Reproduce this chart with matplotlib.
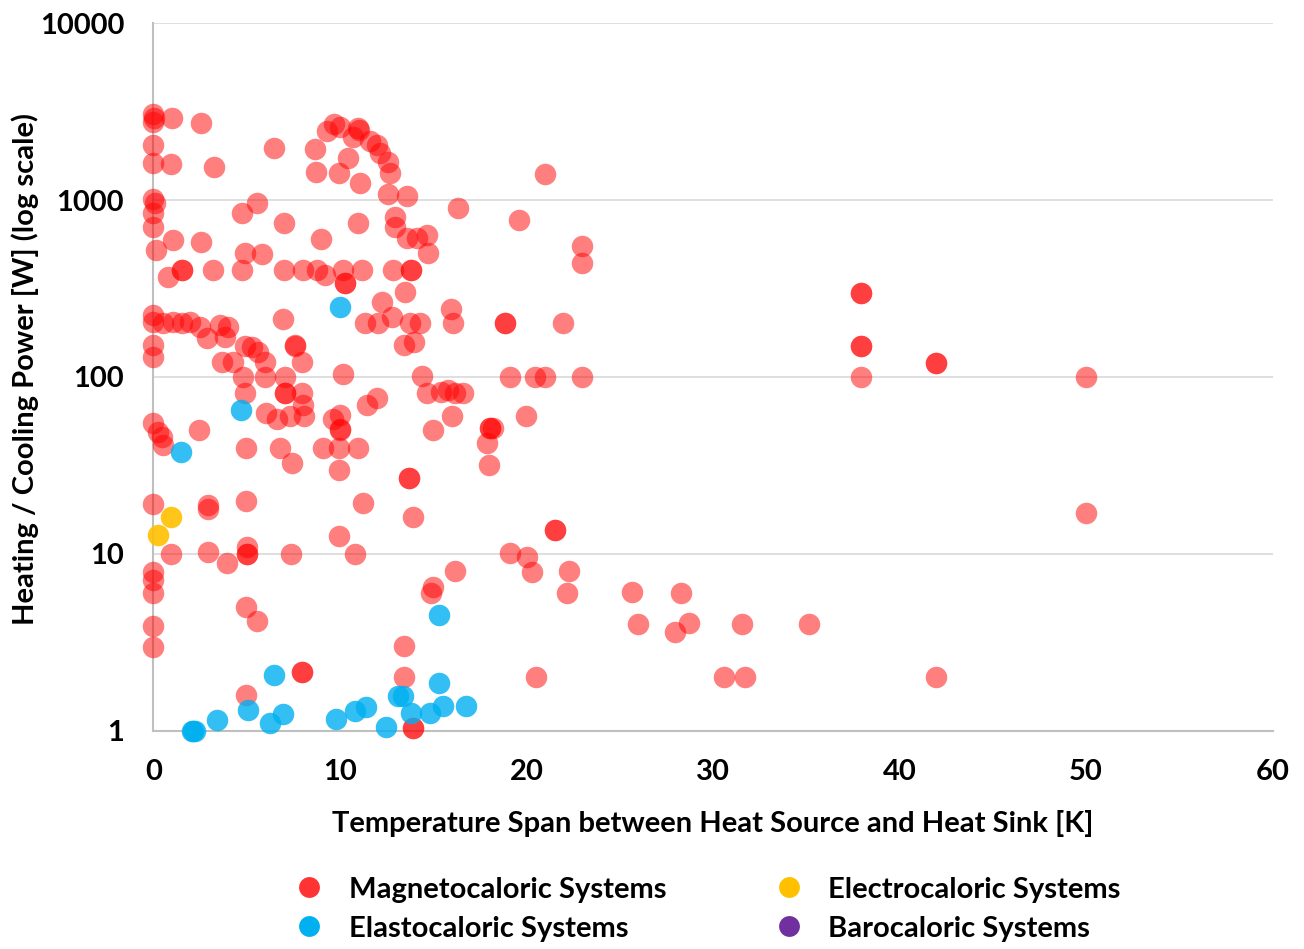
import numpy as np
import matplotlib.pyplot as plt
from matplotlib.lines import Line2D

# Magnetocaloric systems (temperature span [K], power [W])
mag_span = [0, 0.05, 0, 0.99, 2.54, 0, 0, 0.95, 3.25, 6.48, 8.67, 9.3, 9.7, 10.0,
            10.95, 11.05, 10.7, 11.6, 12.0, 12.15, 12.6, 12.7, 10.43, 9.97, 11.08,
            8.72, 12.59, 13.58, 16.31,
            0, 0.1, 0, 0, 0.15, 1.07, 2.54, 5.54, 4.74, 7.0, 8.97, 10.99, 12.95,
            12.95, 13.58, 14.12, 14.65, 14.74, 4.9, 5.83,
            1.52, 1.52, 0.77, 3.18, 4.75, 7.02, 8.04, 8.76, 9.2, 10.18, 10.27, 10.27,
            11.2, 12.86, 13.79, 13.79, 13.5, 12.24, 12.78, 11.34, 12.06, 13.76, 14.29,
            13.45, 14.0, 15.95, 16.08, 18.86, 18.86, 21.97, 6.97,
            0, 0, 0.54, 1.07, 1.52, 1.97, 2.5, 2.86, 3.57, 4.02, 3.84, 0, 0,
            4.9, 5.3, 5.6, 7.6, 7.6, 7.95, 3.67, 4.29, 5.99, 10.18, 7.06, 4.82, 5.99,
            14.38, 14.65, 15.4, 15.8, 16.2, 16.6, 15.99, 14.97, 4.9, 7.06, 7.06, 7.95,
            8.04, 6.04, 6.65, 7.33, 8.08, 9.65, 10.0, 10.0, 10.0, 11.44, 11.97,
            0, 0.24, 0.45, 0.54, 2.47, 4.97, 6.79, 7.45, 9.08, 9.97, 10.99, 9.97,
            13.72, 13.72,
            0, 2.95, 2.95, 4.97, 11.25, 13.9, 9.97, 0.95, 2.95, 3.97, 5.0, 5.0, 5.0,
            7.38, 10.81, 0, 0, 0, 4.97, 5.54, 0, 0, 16.17, 14.97, 14.87, 13.45, 13.45,
            7.95, 7.95, 4.97, 13.93, 13.93,
            20.99, 19.61, 22.96, 22.96, 19.12, 20.46, 20.99, 22.96, 19.96, 18.04, 18.04,
            18.22, 17.9, 17.99, 21.53, 21.53, 19.12, 20.04, 20.28, 22.29, 22.19, 25.67,
            28.28, 25.99, 27.96, 28.71, 31.53, 35.14, 20.49, 30.6, 31.71, 41.95,
            37.93, 37.93, 37.93, 37.93, 37.93, 41.95, 41.95, 50, 50]
mag_power = [3050, 2900, 2750, 2910, 2720, 2050, 1620, 1600, 1540, 1970, 1935, 2450, 2700, 2600,
             2550, 2500, 2270, 2150, 2050, 1850, 1650, 1430, 1730, 1420, 1250,
             1440, 1080, 1050, 900,
             1020, 960, 841, 706, 522, 595, 576, 958, 841, 744, 604, 746, 805,
             706, 607, 607, 634, 500, 500, 496,
             403, 403, 368, 403, 403, 403, 403, 403, 377, 403, 341, 341,
             403, 403, 403, 403, 303, 266, 219, 202, 202, 202, 202,
             151, 158, 241, 202, 202, 202, 202, 212,
             225, 205, 202, 205, 202, 205, 192, 166, 197, 192, 169, 152, 130,
             150, 148, 138, 152, 150, 122, 121, 121, 121, 104, 100, 100, 100,
             101, 81, 82.5, 84, 81.5, 81.5, 60, 50, 81, 81, 81, 81,
             69, 62.8, 57.6, 60, 60, 57.6, 61, 50, 51, 69, 75.7,
             55, 49, 46, 41, 50, 39.8, 39.8, 32.5, 39.8, 39.8, 39.8, 29.8,
             27, 27,
             19.1, 18.9, 17.9, 20, 19.5, 16.2, 12.7, 10, 10.2, 8.84, 11, 10, 10,
             10, 10, 7.86, 7.1, 5.98, 4.99, 4.19, 3.91, 2.98, 8.0, 6.52, 5.98, 3.0, 2.02,
             2.16, 2.16, 1.59, 1.03, 1.03,
             1403, 770, 552, 439, 100, 100, 100, 100, 60, 51.2, 51.2,
             51.2, 42.5, 31.8, 13.7, 13.7, 10.1, 9.6, 7.9, 8.0, 6.0, 6.06,
             6.0, 4.0, 3.6, 4.05, 4.0, 4.0, 2.0, 2.0, 2.0, 2.0,
             300, 300, 150, 150, 100, 120, 120, 100, 17.0]

# Elastocaloric systems
ela_span = [10.0, 4.68, 1.47, 15.31, 6.47, 5.09, 3.43, 2.06, 2.23, 2.15, 6.25, 6.97, 9.79,
            10.81, 11.4, 12.47, 13.1, 13.4, 13.79, 14.83, 15.31, 15.51, 16.76]
ela_power = [249, 65, 37.8, 4.51, 2.07, 1.31, 1.15, 1.0, 1.0, 1.0, 1.11, 1.25, 1.17,
             1.29, 1.37, 1.05, 1.57, 1.58, 1.26, 1.26, 1.85, 1.38, 1.38]

# Electrocaloric systems
ele_span = [0.95, 0.24]
ele_power = [16.1, 12.8]

# Barocaloric systems (none in the data, only in the legend)
bar_span = []
bar_power = []

red = '#FF0000'
blue = '#00B0F0'
yellow = '#FFC000'
purple = '#7030A0'

plt.rcParams['font.family'] = ['Lato', 'DejaVu Sans']
plt.rcParams['font.weight'] = 'bold'
fs = 21

fig = plt.figure(figsize=(13.04, 9.49), dpi=100)
ax = fig.add_axes([0.1175, 0.23, 0.8585, 0.7455])

ms = 240
ax.scatter(mag_span, mag_power, s=ms, color=red, alpha=0.5, linewidths=0, clip_on=False, zorder=3)
ax.scatter(ela_span, ela_power, s=ms, color=blue, alpha=0.8, linewidths=0, clip_on=False, zorder=4)
ax.scatter(ele_span, ele_power, s=ms, color=yellow, alpha=0.9, linewidths=0, clip_on=False, zorder=5)
ax.scatter(bar_span, bar_power, s=ms, color=purple, linewidths=0, zorder=5)

ax.set_yscale('log')
ax.set_xlim(0, 60)
ax.set_ylim(1, 10000)
ax.set_xticks(range(0, 61, 10))
ax.set_yticks([1, 10, 100, 1000, 10000])
ax.set_yticklabels(['1', '10', '100', '1000', '10000'])
ax.minorticks_off()
ax.tick_params(length=0, labelsize=fs)
ax.tick_params(axis='y', pad=21)
ax.tick_params(axis='x', pad=20)
for lab in ax.get_xticklabels() + ax.get_yticklabels():
    lab.set_fontweight('bold')

# light horizontal grid, grey axis lines
ax.grid(axis='y', color='#D9D9D9', linewidth=1.2)
ax.set_axisbelow(True)
for side in ['top', 'right']:
    ax.spines[side].set_visible(False)
for side in ['left', 'bottom']:
    ax.spines[side].set_color('#BFBFBF')
    ax.spines[side].set_linewidth(1.5)

ax.set_xlabel('Temperature Span between Heat Source and Heat Sink [K]', fontsize=fs,
              fontweight='bold', labelpad=18)
# y label placed by hand so it is not cut at the left edge
fig.text(0.019, 0.611, 'Heating / Cooling Power [W] (log scale)', fontsize=fs,
         fontweight='bold', rotation=90, ha='center', va='center')

mk = dict(marker='o', linestyle='', markersize=15, markeredgewidth=0)
handles = [Line2D([], [], color=red, alpha=0.8, **mk),
           Line2D([], [], color=blue, **mk),
           Line2D([], [], color=yellow, **mk),
           Line2D([], [], color=purple, **mk)]
labels = ['Magnetocaloric Systems', 'Elastocaloric Systems',
          'Electrocaloric Systems', 'Barocaloric Systems']
fig.legend(handles, labels, ncol=2, loc='center', bbox_to_anchor=(0.537, 0.042),
           frameon=False, prop={'weight': 'bold', 'size': fs},
           columnspacing=3.2, handletextpad=0.35, labelspacing=0.45)

fig.savefig('out.png', dpi=100)
